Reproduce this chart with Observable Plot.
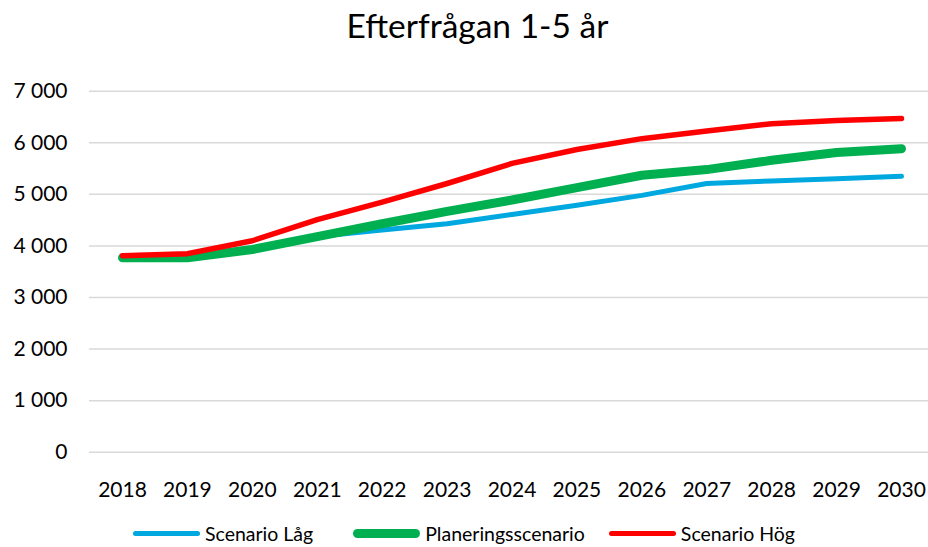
<!DOCTYPE html>
<html>
<head>
<meta charset="utf-8">
<script src="https://cdn.jsdelivr.net/npm/d3@7"></script>
<script src="https://cdn.jsdelivr.net/npm/@observablehq/plot@0.6"></script>
<style>
  html, body { margin: 0; padding: 0; background: #fff; }
  body { width: 928px; height: 547px; overflow: hidden; font-family: Lato, "Open Sans", sans-serif; color: #000; }
  #title { height: 70px; line-height: 50px; text-align: center; font-size: 33.5px; padding-left: 27px; box-sizing: border-box; }
  #legend { display: flex; align-items: center; padding-left: 133px; margin-top: 5px; height: 37px; font-size: 19.5px; }
  .item { display: flex; align-items: center; }
  .sw { width: 67px; border-radius: 6px; margin-right: 5px; }
</style>
</head>
<body>
<div id="title">Efterfrågan 1-5 år</div>
<div id="chart"></div>
<div id="legend"></div>
<script>
const years = [2018, 2019, 2020, 2021, 2022, 2023, 2024, 2025, 2026, 2027, 2028, 2029, 2030];
const scenarioLag = [3770, 3770, 3930, 4180, 4310, 4430, 4610, 4790, 4980, 5210, 5260, 5300, 5350];
const planering = [3770, 3770, 3930, 4180, 4430, 4670, 4890, 5130, 5370, 5480, 5660, 5810, 5885];
const scenarioHog = [3810, 3850, 4100, 4510, 4850, 5210, 5600, 5870, 6080, 6230, 6370, 6430, 6470];
const yTicks = [0, 1000, 2000, 3000, 4000, 5000, 6000, 7000];

const seriesNames = ["Scenario Låg", "Planeringsscenario", "Scenario Hög"];
const seriesValues = [scenarioLag, planering, scenarioHog];
const colors = ["#00A8E0", "#00B050", "#FF0000"];
const widths = [5, 9, 5.5];
const legendGaps = [40, 24, 0];

const data = seriesNames.flatMap((name, i) =>
  years.map((yr, j) => ({ series: name, year: String(yr), value: seriesValues[i][j] }))
);

const fmt = d => d3.format(",")(d).replace(/,/g, " ");

const chart = Plot.plot({
  width: 928,
  height: 440,
  marginLeft: 89,
  marginRight: 0,
  marginTop: 20.7,
  marginBottom: 58.3,
  style: { fontFamily: "Lato, 'Open Sans', sans-serif", fontSize: "21px", color: "#000", background: "#fff" },
  x: { type: "point", domain: years.map(String), range: [122, 901], padding: 0, round: false, label: null },
  y: { domain: [0, 7000], range: [381.7, 20.7], label: null },
  marks: [
    Plot.gridY(yTicks, { stroke: "#d9d9d9", strokeOpacity: 1, strokeWidth: 1.5 }),
    Plot.axisY(yTicks, { tickSize: 0, tickPadding: 22, tickFormat: fmt, label: null, fontSize: 21 }),
    Plot.axisX({ tickSize: 0, tickPadding: 30, label: null, fontSize: 21 }),
    ...seriesNames.map((name, i) =>
      Plot.line(data.filter(d => d.series === name), {
        x: "year", y: "value", stroke: colors[i], strokeWidth: widths[i],
        strokeLinecap: "round", strokeLinejoin: "round"
      })
    )
  ]
});
document.getElementById("chart").appendChild(chart);

const legend = document.getElementById("legend");
seriesNames.forEach((name, i) => {
  const item = document.createElement("div");
  item.className = "item";
  item.style.marginRight = legendGaps[i] + "px";
  const sw = document.createElement("div");
  sw.className = "sw";
  sw.style.height = widths[i] + "px";
  sw.style.background = colors[i];
  const label = document.createElement("span");
  label.textContent = name;
  item.appendChild(sw);
  item.appendChild(label);
  legend.appendChild(item);
});
</script>
</body>
</html>
